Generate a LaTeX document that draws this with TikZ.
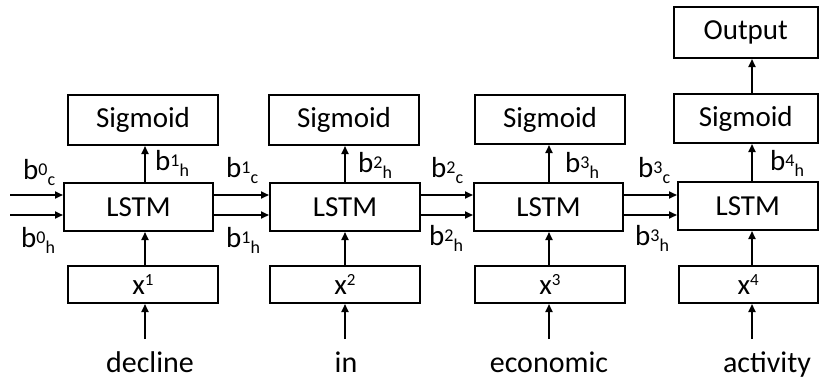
\documentclass[tikz,border=0pt]{standalone}
\usepackage{fontspec}
\setmainfont{Carlito}
\usetikzlibrary{arrows.meta}
\newcommand\bl[2]{b\raisebox{4pt}{\fontsize{18}{18}\selectfont #1}\raisebox{-6pt}{\fontsize{18}{18}\selectfont #2}}
\newcommand\xs[1]{x\raisebox{9pt}{\fontsize{17}{17}\selectfont #1}}
\begin{document}
\begin{tikzpicture}[x=1pt,y=-1pt,
 box/.style={draw,line width=2pt,inner sep=0pt,font=\fontsize{29}{30}\selectfont},
 arr/.style={line width=1.8pt,-{Triangle[length=8pt,width=7pt]}},
 lbl/.style={anchor=base west,inner sep=0pt,font=\fontsize{29}{30}\selectfont},
 word/.style={anchor=base,inner sep=0pt,font=\fontsize{30}{30}\selectfont}]
\useasboundingbox (0,0) rectangle (819,378);
% LSTM boxes
\node[box,minimum width=149pt,minimum height=48pt] (l1) at (138.5,207) {LSTM};
\node[box,minimum width=150pt,minimum height=48pt] (l2) at (345,207) {LSTM};
\node[box,minimum width=149pt,minimum height=48pt] (l3) at (548.5,207) {LSTM};
\node[box,minimum width=139.5pt,minimum height=48pt] (l4) at (747.75,206) {LSTM};
% Sigmoid boxes
\node[box,minimum width=150pt,minimum height=50pt] (s1) at (143,120) {Sigmoid};
\node[box,minimum width=150pt,minimum height=50pt] (s2) at (344,120) {Sigmoid};
\node[box,minimum width=150pt,minimum height=49pt] (s3) at (550,119.5) {Sigmoid};
\node[box,minimum width=143.5pt,minimum height=49pt] (s4) at (745.75,118.5) {Sigmoid};
% Output
\node[box,minimum width=143.5pt,minimum height=51pt] (o) at (745.75,32.5) {Output};
% input boxes
\node[box,minimum width=150pt,minimum height=37pt] (x1) at (143,284.5) {\xs{1}};
\node[box,minimum width=150pt,minimum height=37pt] (x2) at (345,284.5) {\xs{2}};
\node[box,minimum width=150pt,minimum height=37pt] (x3) at (550,284.5) {\xs{3}};
\node[box,minimum width=138.5pt,minimum height=37pt] (x4) at (748.25,284.5) {\xs{4}};
% words
\node[word] (w1) at (150,372) {decline};
\node[word] (w2) at (346,372) {in};
\node[word] (w3) at (549,372) {economic};
\node[word] (w4) at (767,372) {activity};
% column axes
\coordinate (c1) at (145,339);
\coordinate (c2) at (345,339);
\coordinate (c3) at (549,339);
\coordinate (c4) at (752,339);
% vertical arrows
\foreach \i in {1,2,3,4}{
  \draw[arr] (c\i) -- (x\i.south -| c\i);
  \draw[arr] (x\i.north -| c\i) -- (l\i.south -| c\i);
  \draw[arr] (l\i.north -| c\i) -- (s\i.south -| c\i);
}
\draw[arr] (s4.north -| c4) -- (o.south -| c4);
% incoming states
\coordinate (in1) at (10,195);
\coordinate (in2) at (10,215);
\draw[arr] (in1) -- (in1 -| l1.west);
\draw[arr] (in2) -- (in2 -| l1.west);
% horizontal arrows
\foreach \a/\b in {1/2,2/3,3/4}{
  \draw[arr] ([yshift=12pt]l\a.east) -- ([yshift=12pt]l\a.east -| l\b.west);
  \draw[arr] ([yshift=-8pt]l\a.east) -- ([yshift=-8pt]l\a.east -| l\b.west);
}
% labels
\node[lbl] (t0c) at (23,179) {\bl{0}{c}};
\node[lbl] (t0h) at (21,247) {\bl{0}{h}};
\node[lbl] (u1) at (155,170) {\bl{1}{h}};
\node[lbl] (t1c) at (226,177) {\bl{1}{c}};
\node[lbl] (t1h) at (226,247) {\bl{1}{h}};
\node[lbl] (u2) at (358,172) {\bl{2}{h}};
\node[lbl] (t2c) at (431,177) {\bl{2}{c}};
\node[lbl] (t2h) at (429,245) {\bl{2}{h}};
\node[lbl] (u3) at (565,172) {\bl{3}{h}};
\node[lbl] (t3c) at (638,177) {\bl{3}{c}};
\node[lbl] (t3h) at (635,245) {\bl{3}{h}};
\node[lbl] (u4) at (770,170) {\bl{4}{h}};
\end{tikzpicture}
\end{document}
